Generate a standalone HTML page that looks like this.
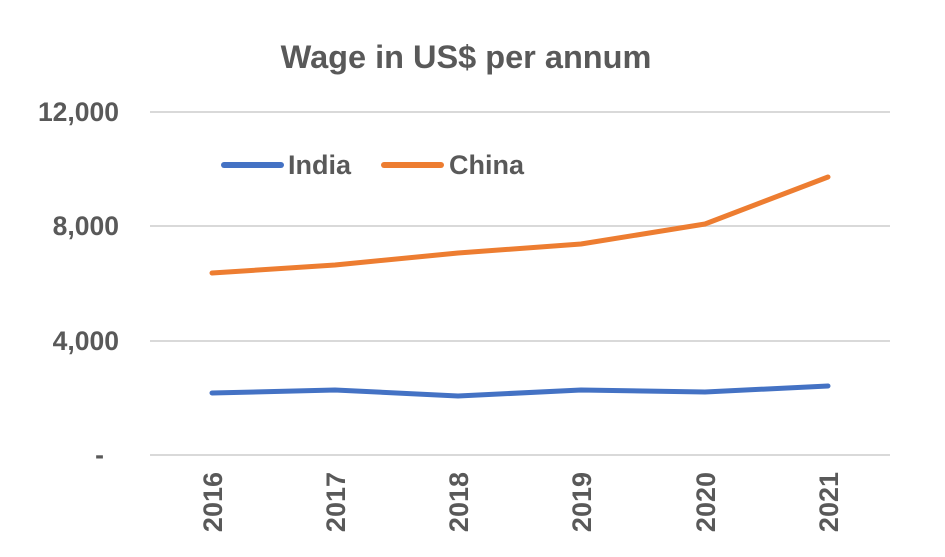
<!DOCTYPE html>
<html><head><meta charset="utf-8"><style>
html,body{margin:0;padding:0;background:#fff;}
svg{display:block;font-family:"Liberation Sans",Arial,sans-serif;font-weight:bold;}
</style></head><body>
<svg width="945" height="557" viewBox="0 0 945 557" xmlns="http://www.w3.org/2000/svg">
<rect width="945" height="557" fill="#fff"/>
<text x="466" y="68" text-anchor="middle" font-size="32.5" fill="#595959">Wage in US$ per annum</text>
<g stroke="#d9d9d9" stroke-width="2">
<line x1="150" y1="112" x2="890" y2="112"/>
<line x1="150" y1="226" x2="890" y2="226"/>
<line x1="150" y1="341" x2="890" y2="341"/>
<line x1="150" y1="455" x2="890" y2="455"/>
</g>
<g font-size="26.5" fill="#595959" text-anchor="end">
<text x="119" y="121">12,000</text>
<text x="119" y="235">8,000</text>
<text x="119" y="350">4,000</text>
<text x="104" y="464">-</text>
</g>
<g font-size="27" fill="#595959" text-anchor="end">
<text transform="translate(222,472) rotate(-90)">2016</text>
<text transform="translate(345,472) rotate(-90)">2017</text>
<text transform="translate(468,472) rotate(-90)">2018</text>
<text transform="translate(591,472) rotate(-90)">2019</text>
<text transform="translate(715,472) rotate(-90)">2020</text>
<text transform="translate(838,472) rotate(-90)">2021</text>
</g>
<polyline fill="none" stroke="#4472C4" stroke-width="5" stroke-linejoin="round" stroke-linecap="round"
 points="212,393 335,390 458,396 581,390 705,392 828,386"/>
<polyline fill="none" stroke="#ED7D31" stroke-width="5" stroke-linejoin="round" stroke-linecap="round"
 points="212,273 335,265 458,253 581,244 705,224 828,177"/>
<line x1="224" y1="165" x2="281" y2="165" stroke="#4472C4" stroke-width="6" stroke-linecap="round"/>
<text x="288" y="174" font-size="27" fill="#595959">India</text>
<line x1="384" y1="165" x2="441" y2="165" stroke="#ED7D31" stroke-width="6" stroke-linecap="round"/>
<text x="449" y="174" font-size="27" fill="#595959">China</text>
</svg>
</body></html>
